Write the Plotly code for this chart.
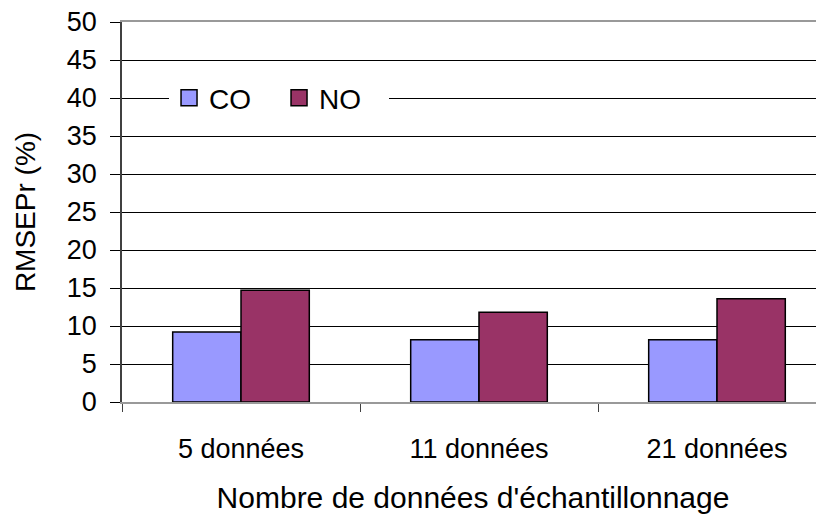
import plotly.graph_objects as go

categories = ["5 données", "11 données", "21 données"]
co_values = [9.2, 8.2, 8.2]
no_values = [14.7, 11.8, 13.6]
y_ticks = [0, 5, 10, 15, 20, 25, 30, 35, 40, 45, 50]

CO_COLOR = "#9999FF"
NO_COLOR = "#993366"
FONT = "Liberation Sans, Arial, sans-serif"

fig = go.Figure()
fig.add_trace(go.Bar(name="CO", x=categories, y=co_values, marker=dict(color=CO_COLOR, line=dict(color="black", width=1.5)), showlegend=False))
fig.add_trace(go.Bar(name="NO", x=categories, y=no_values, marker=dict(color=NO_COLOR, line=dict(color="black", width=1.5)), showlegend=False))
# legend entries with larger square symbols
for name, col in [("CO", CO_COLOR), ("NO", NO_COLOR)]:
    fig.add_trace(go.Scatter(name=name, x=[None], y=[None], mode="markers",
                             marker=dict(symbol="square", size=16, color=col, line=dict(color="black", width=1.5))))

# page body has an 8px default margin, so the figure is sized/offset to compensate
fig.update_layout(
    width=816, height=506,
    margin=dict(l=114, r=0, t=14, b=112),
    paper_bgcolor="white", plot_bgcolor="white",
    barmode="group", bargap=0.426, bargroupgap=0,
    font=dict(family=FONT, size=27, color="black"),
    showlegend=True,
    legend=dict(orientation="h", x=0.067, xanchor="left", y=0.8, yanchor="middle",
                bgcolor="white", borderwidth=0, font=dict(size=28), entrywidth=65),
    xaxis=dict(range=[-0.5, 2.4496], tickson="boundaries", ticks="outside", ticklen=8,
               tickcolor="#404040", showline=True, linecolor="#999999", linewidth=2, mirror=True,
               showgrid=False, tickfont=dict(size=27), automargin=False, ticklabelstandoff=22,
               ticklabeloverflow="allow",
               title=dict(text="Nombre de données d'échantillonnage", font=dict(size=30), standoff=24)),
    yaxis=dict(range=[0, 50], tickvals=y_ticks, ticks="outside", ticklen=10, tickcolor="black",
               showline=True, linecolor="#404040", linewidth=1.5, showgrid=True, gridcolor="black",
               gridwidth=1, zeroline=False, tickfont=dict(size=27), automargin=False, ticklabelstandoff=8,
               ticklabeloverflow="allow",
               title=dict(text="RMSEPr (%)", font=dict(size=28), standoff=23)),
)

fig.write_html("out.html")
